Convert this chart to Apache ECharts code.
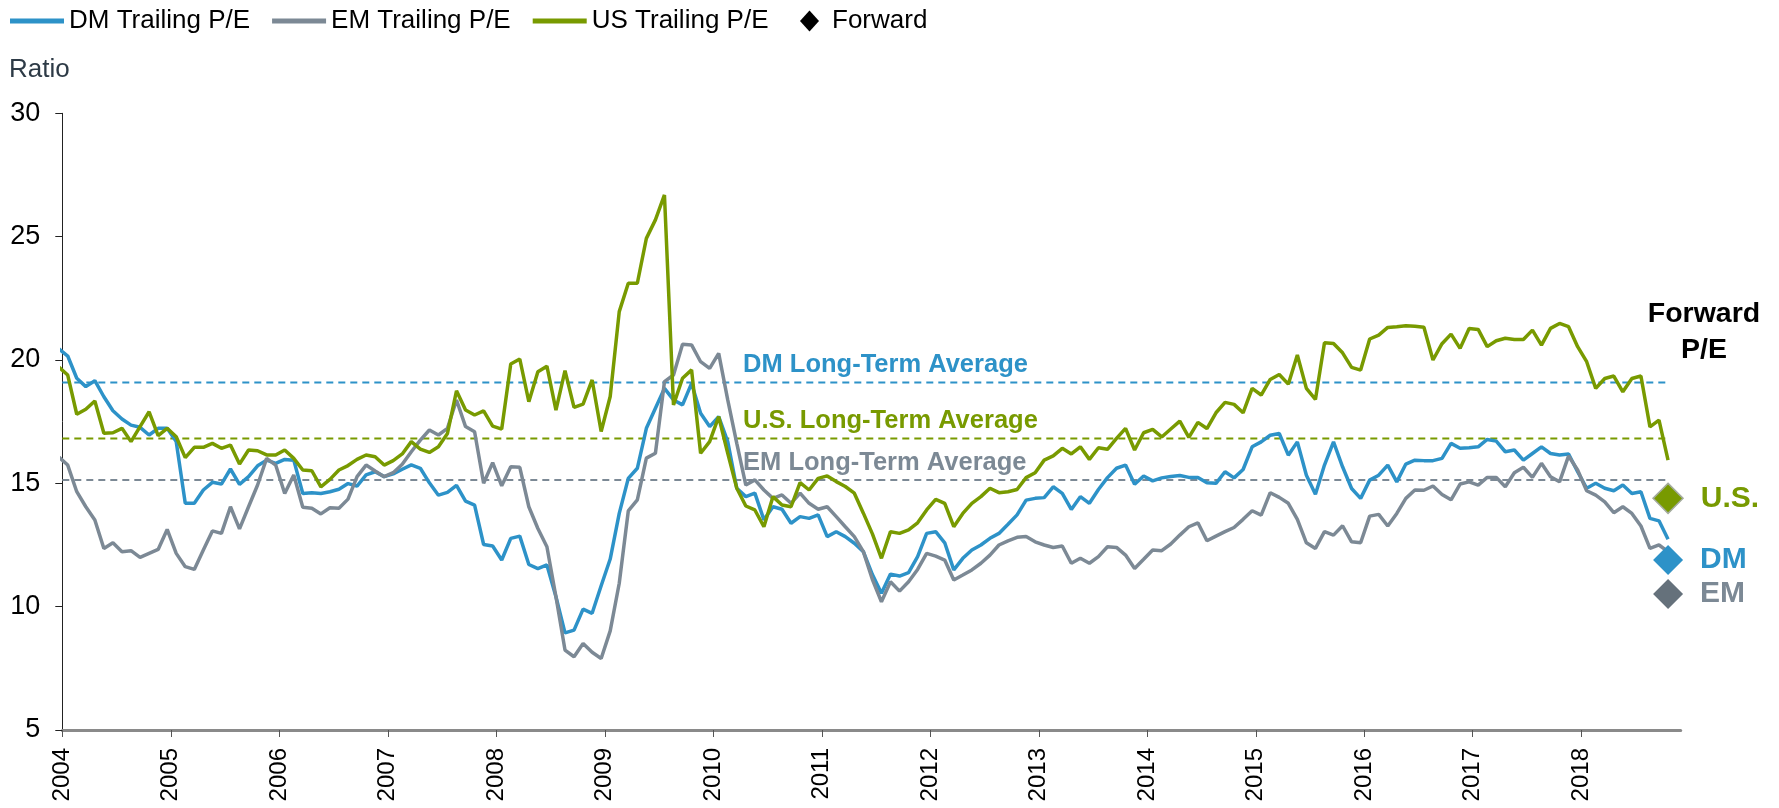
<!DOCTYPE html>
<html>
<head>
<meta charset="utf-8">
<script src="https://cdn.jsdelivr.net/npm/echarts@6/dist/echarts.min.js"></script>
<style>
  html, body { margin: 0; padding: 0; background: #fff; }
  #chart { width: 1779px; height: 808px; }
</style>
</head>
<body>
<div id="chart"></div>
<script>
// monthly trailing P/E, Dec 2003 (clipped at the axis) .. Oct 2018
const dmTrailing = [20.46,
  20.16, 19.26, 18.92, 19.16, 18.51, 17.94, 17.61, 17.36, 17.27, 16.96, 17.23, 17.23,
  16.69, 14.19, 14.19, 14.73, 15.04, 14.97, 15.58, 14.96, 15.27, 15.71, 15.94, 15.81,
  15.97, 15.94, 14.59, 14.62, 14.59, 14.66, 14.76, 14.99, 14.89, 15.34, 15.47, 15.27,
  15.38, 15.57, 15.75, 15.61, 15.02, 14.52, 14.63, 14.92, 14.28, 14.12, 12.52, 12.46,
  11.89, 12.77, 12.86, 11.71, 11.54, 11.69, 10.40, 8.94, 9.05, 9.90, 9.73, 10.85,
  11.93, 13.78, 15.20, 15.61, 17.23, 18.04, 18.85, 18.38, 18.18, 19.05, 17.84, 17.30,
  17.70, 16.69, 14.80, 14.46, 14.60, 13.52, 14.05, 13.95, 13.38, 13.65, 13.58, 13.72,
  12.84, 13.04, 12.84, 12.57, 12.23, 11.30, 10.54, 11.32, 11.24, 11.38, 12.03, 12.97,
  13.04, 12.59, 11.49, 11.96, 12.30, 12.50, 12.77, 12.97, 13.34, 13.72, 14.32, 14.39,
  14.42, 14.86, 14.59, 13.94, 14.46, 14.19, 14.75, 15.23, 15.61, 15.74, 14.96, 15.30,
  15.10, 15.22, 15.28, 15.32, 15.24, 15.24, 15.02, 15.00, 15.47, 15.22, 15.56, 16.48,
  16.68, 16.95, 17.02, 16.14, 16.68, 15.33, 14.56, 15.74, 16.68, 15.67, 14.79, 14.39,
  15.13, 15.33, 15.74, 15.06, 15.78, 15.94, 15.92, 15.92, 16.01, 16.62, 16.42, 16.44,
  16.48, 16.78, 16.71, 16.28, 16.35, 15.94, 16.21, 16.48, 16.21, 16.15, 16.19, 15.47,
  14.80, 15.00, 14.80, 14.70, 14.93, 14.59, 14.66, 13.58, 13.48, 12.73];

const emTrailing = [16.07,
  15.74, 14.66, 14.05, 13.51, 12.36, 12.59, 12.23, 12.27, 12.00, 12.16, 12.32, 13.13,
  12.16, 11.62, 11.51, 12.30, 13.07, 12.97, 14.05, 13.15, 14.05, 14.93, 16.01, 15.74,
  14.59, 15.34, 14.03, 13.99, 13.76, 14.01, 13.99, 14.36, 15.27, 15.74, 15.50, 15.27,
  15.43, 15.77, 16.28, 16.75, 17.16, 16.96, 17.23, 18.38, 17.30, 17.09, 15.00, 15.84,
  14.90, 15.67, 15.65, 14.05, 13.17, 12.43, 10.40, 8.24, 7.97, 8.51, 8.15, 7.90,
  9.02, 10.95, 13.88, 14.33, 16.02, 16.22, 19.12, 19.39, 20.64, 20.61, 19.93, 19.66,
  20.27, 18.38, 16.62, 14.93, 15.14, 14.73, 14.39, 14.53, 14.19, 14.60, 14.19, 13.95,
  14.05, 13.65, 13.24, 12.84, 12.23, 11.10, 10.20, 11.01, 10.63, 11.01, 11.51, 12.16,
  12.05, 11.89, 11.08, 11.28, 11.49, 11.76, 12.09, 12.50, 12.67, 12.81, 12.84, 12.63,
  12.50, 12.40, 12.46, 11.76, 11.96, 11.76, 12.03, 12.43, 12.40, 12.09, 11.55, 11.92,
  12.30, 12.27, 12.54, 12.90, 13.24, 13.40, 12.67, 12.86, 13.04, 13.21, 13.54, 13.89,
  13.71, 14.62, 14.43, 14.19, 13.54, 12.59, 12.36, 13.04, 12.90, 13.28, 12.63, 12.59,
  13.67, 13.74, 13.27, 13.78, 14.39, 14.73, 14.72, 14.89, 14.55, 14.33, 14.97, 15.06,
  14.93, 15.24, 15.24, 14.86, 15.43, 15.65, 15.24, 15.81, 15.27, 15.06, 16.11, 15.54,
  14.70, 14.52, 14.25, 13.81, 14.05, 13.78, 13.27, 12.36, 12.50, 12.23];

const usTrailing = [19.72,
  19.39, 17.80, 18.00, 18.34, 17.03, 17.05, 17.23, 16.69, 17.30, 17.90, 16.93, 17.23,
  16.89, 16.04, 16.46, 16.46, 16.62, 16.42, 16.55, 15.78, 16.35, 16.32, 16.15, 16.15,
  16.35, 16.01, 15.54, 15.51, 14.86, 15.16, 15.54, 15.72, 15.97, 16.15, 16.08, 15.74,
  15.92, 16.19, 16.69, 16.39, 16.25, 16.48, 17.02, 18.75, 17.97, 17.77, 17.94, 17.32,
  17.20, 19.84, 20.04, 18.31, 19.52, 19.75, 17.97, 19.57, 18.08, 18.21, 19.19, 17.10,
  18.52, 21.96, 23.11, 23.11, 24.93, 25.68, 26.69, 18.18, 19.26, 19.60, 16.22, 16.69,
  17.70, 16.22, 14.80, 14.08, 13.92, 13.24, 14.46, 14.12, 14.05, 15.03, 14.73, 15.20,
  15.30, 15.07, 14.87, 14.60, 13.79, 12.95, 11.96, 13.04, 12.97, 13.11, 13.40, 13.92,
  14.35, 14.19, 13.24, 13.78, 14.19, 14.46, 14.80, 14.62, 14.66, 14.75, 15.23, 15.43,
  15.94, 16.11, 16.42, 16.19, 16.48, 15.97, 16.44, 16.38, 16.82, 17.23, 16.35, 17.05,
  17.19, 16.88, 17.20, 17.52, 16.86, 17.47, 17.22, 17.86, 18.28, 18.20, 17.86, 18.85,
  18.58, 19.21, 19.41, 19.02, 20.20, 18.85, 18.40, 20.70, 20.67, 20.29, 19.70, 19.59,
  20.85, 21.01, 21.32, 21.35, 21.39, 21.37, 21.33, 20.00, 20.66, 21.05, 20.47, 21.28,
  21.24, 20.54, 20.78, 20.88, 20.83, 20.83, 21.21, 20.60, 21.28, 21.48, 21.35, 20.54,
  19.93, 18.85, 19.25, 19.35, 18.71, 19.25, 19.35, 17.29, 17.56, 15.94];

const avgNames = ['DM Long-Term Average', 'U.S. Long-Term Average', 'EM Long-Term Average'];
const avgValues = [19.09, 16.82, 15.13];

const forwardNames = ['U.S.', 'DM', 'EM'];
const forwardPE = [14.39, 11.89, 10.51];

const yearLabels = ['2004', '2005', '2006', '2007', '2008', '2009', '2010', '2011',
  '2012', '2013', '2014', '2015', '2016', '2017', '2018'];

// colours
const BLUE = '#2d92c8', GRAY = '#7c8995', GREEN = '#789a00', EM_DIAMOND = '#65717b';
const avgColors = [BLUE, GREEN, GRAY];
const fwdColors = [GREEN, BLUE, EM_DIAMOND];
const fwdLabelColors = [GREEN, BLUE, GRAY];

// x is months since Jan 2004; monthly points sit a bit after each tick
const pointShift = -0.4;
const toPairs = arr => arr.map((v, i) => [i + pointShift, v]);
const lastX = dmTrailing.length - 1 + pointShift;
const labelX = 75.3;

const chart = echarts.init(document.getElementById('chart'));
const FONT = '"Liberation Sans", Arial, sans-serif';

const lineSeries = (name, data, color) => ({
  name, type: 'line', data: toPairs(data), symbol: 'none', showSymbol: false,
  lineStyle: { color, width: 3.5 }, itemStyle: { color }, z: 3
});

const avgSeries = avgValues.map((v, i) => ({
  type: 'line', data: [[0, v], [lastX, v]], symbol: 'none', silent: true,
  lineStyle: { color: avgColors[i], width: 2, type: [7, 5] }, z: 2
}));

chart.setOption({
  animation: false,
  textStyle: { fontFamily: FONT },
  title: [
    { text: 'Ratio', left: 9, top: 57, padding: 0,
      textStyle: { fontSize: 26, fontWeight: 'normal', color: '#2d3a46', fontFamily: FONT } },
    { text: 'Forward\nP/E', left: 1704, top: 296, padding: 0, textAlign: 'center',
      textStyle: { fontSize: 28.5, fontWeight: 'bold', color: '#000', lineHeight: 36, fontFamily: FONT } }
  ],
  legend: [
    { left: 10, top: 8, padding: 0, itemWidth: 54, itemHeight: 5, itemGap: 22,
      textStyle: { fontSize: 26, color: '#000' },
      data: [{ name: 'DM Trailing P/E', icon: 'rect' }, { name: 'EM Trailing P/E', icon: 'rect' },
             { name: 'US Trailing P/E', icon: 'rect' }] },
    { left: 800, top: 8, padding: 0, itemWidth: 19, itemHeight: 21,
      textStyle: { fontSize: 26, color: '#000', padding: [0, 0, 0, 8] },
      data: [{ name: 'Forward', icon: 'diamond' }] }
  ],
  grid: { left: 62.3, right: 98.3, top: 113.3, bottom: 78 },
  xAxis: {
    type: 'value', min: 0, max: 179, interval: 12,
    axisLine: { lineStyle: { color: '#8a8a8a', width: 3 } },
    axisTick: { show: true, length: 7, lineStyle: { color: '#555', width: 1 },
      customValues: yearLabels.map((_, i) => i * 12) },
    axisLabel: { rotate: 90, margin: 18, fontSize: 24, color: '#000',
      customValues: yearLabels.map((_, i) => i * 12),
      formatter: v => yearLabels[Math.round(v / 12)] },
    splitLine: { show: false }
  },
  yAxis: {
    type: 'value', min: 5, max: 30, interval: 5,
    axisLine: { show: true, lineStyle: { color: '#222', width: 1 } },
    axisTick: { show: true, length: 7, lineStyle: { color: '#222' } },
    axisLabel: { fontSize: 27, color: '#000', margin: 22 },
    splitLine: { show: false }
  },
  series: [
    ...avgSeries,
    lineSeries('DM Trailing P/E', dmTrailing, BLUE),
    lineSeries('EM Trailing P/E', emTrailing, GRAY),
    lineSeries('US Trailing P/E', usTrailing, GREEN),
    {
      type: 'scatter', silent: true, symbolSize: 0, z: 6, itemStyle: { opacity: 1 },
      data: avgValues.map((v, i) => ({
        value: [labelX, v],
        label: { show: true, position: 'right', distance: 0, offset: [0, -17],
          formatter: avgNames[i], color: avgColors[i],
          fontSize: 25.5, fontWeight: 'bold', fontFamily: FONT }
      }))
    },
    {
      name: 'Forward', type: 'scatter', symbol: 'diamond', symbolSize: 30, z: 7,
      itemStyle: { color: '#000', opacity: 1 },
      data: forwardPE.map((v, i) => ({
        value: [lastX, v],
        itemStyle: i === 0
          ? { color: fwdColors[i], borderColor: '#a3ab9c', borderWidth: 1.5, opacity: 1 }
          : { color: fwdColors[i], opacity: 1 },
        label: { show: true, position: 'right', distance: 17, formatter: forwardNames[i],
          color: fwdLabelColors[i], fontSize: 30, fontWeight: 'bold', fontFamily: FONT }
      }))
    }
  ]
});
</script>
</body>
</html>
